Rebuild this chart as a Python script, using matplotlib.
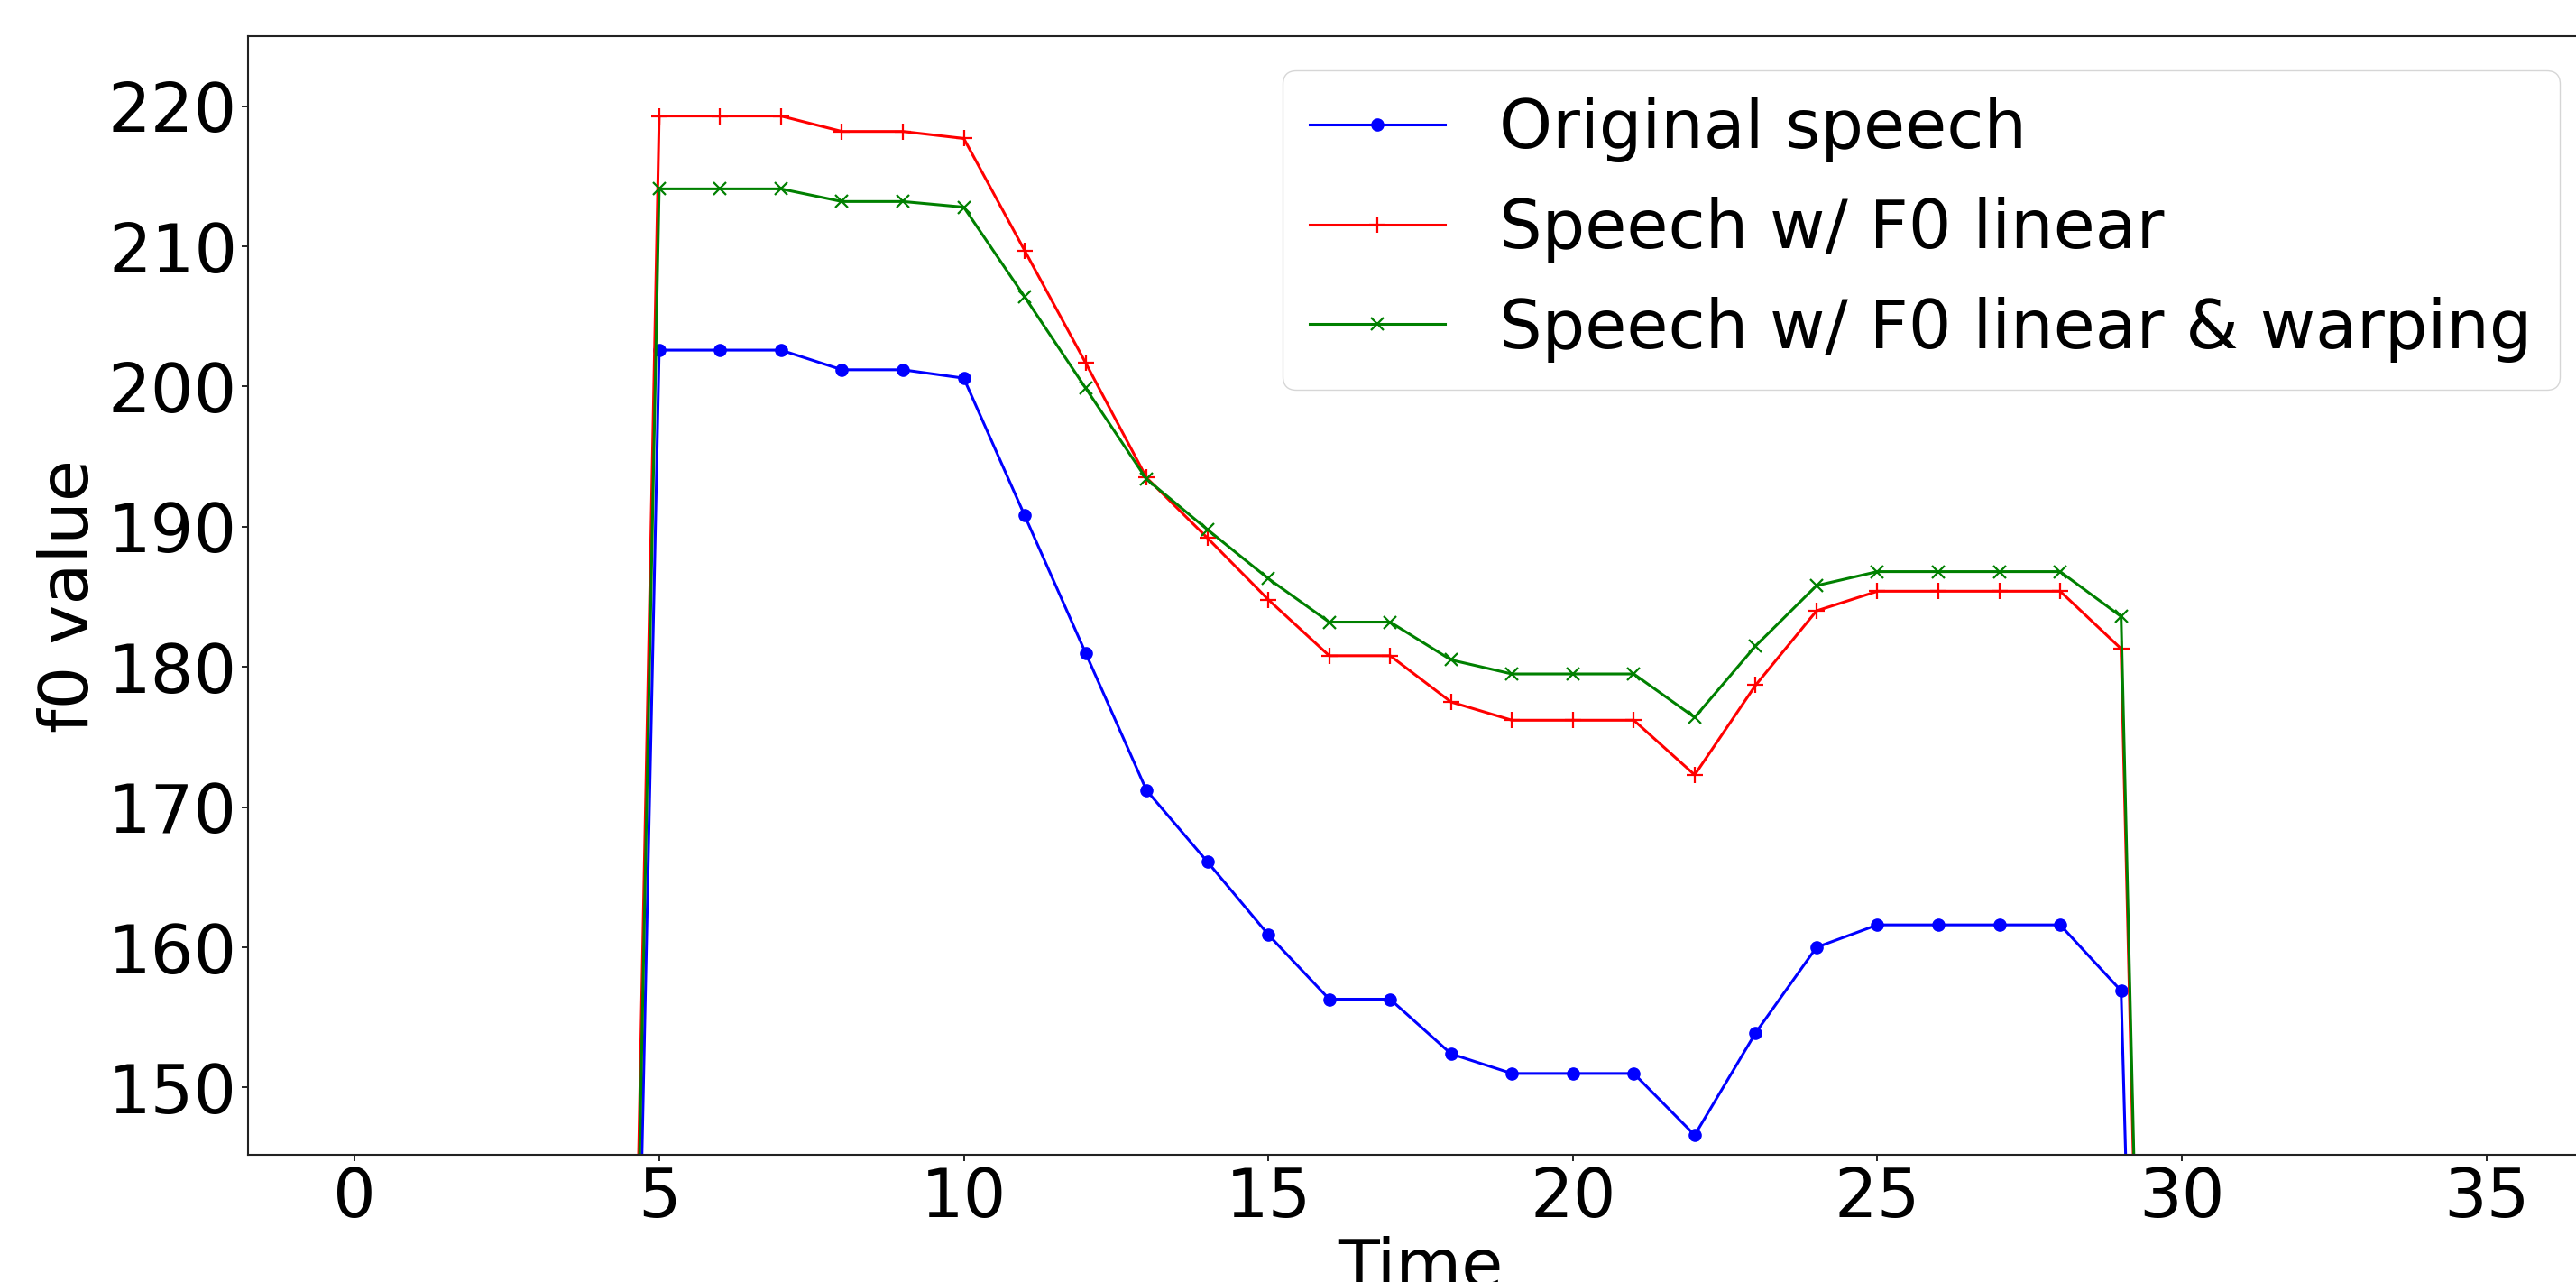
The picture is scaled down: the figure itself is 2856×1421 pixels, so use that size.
import numpy as np
import matplotlib
matplotlib.use("Agg")
import matplotlib.pyplot as plt

# time axis: frames 0..35, voiced region 5..29
time = np.arange(36)

original = [0, 0, 0, 0, 0,
            202.6, 202.6, 202.6, 201.2, 201.2, 200.6, 190.8, 181.0, 171.2,
            166.1, 160.9, 156.3, 156.3, 152.4, 151.0, 151.0, 151.0, 146.6,
            153.9, 160.0, 161.6, 161.6, 161.6, 161.6, 156.9,
            0, 0, 0, 0, 0, 0]

f0_linear = [0, 0, 0, 0, 0,
             219.3, 219.3, 219.3, 218.2, 218.2, 217.7, 209.7, 201.7, 193.5,
             189.2, 184.8, 180.8, 180.8, 177.5, 176.2, 176.2, 176.2, 172.3,
             178.7, 184.0, 185.4, 185.4, 185.4, 185.4, 181.3,
             0, 0, 0, 0, 0, 0]

f0_linear_warp = [0, 0, 0, 0, 0,
                  214.1, 214.1, 214.1, 213.2, 213.2, 212.8, 206.4, 199.9, 193.4,
                  189.8, 186.3, 183.2, 183.2, 180.5, 179.5, 179.5, 179.5, 176.4,
                  181.5, 185.8, 186.8, 186.8, 186.8, 186.8, 183.6,
                  0, 0, 0, 0, 0, 0]

labels = ["Original speech", "Speech w/ F0 linear", "Speech w/ F0 linear & warping"]

fig = plt.figure(figsize=(28.56, 14.21), dpi=100)
# axes run past the right edge of the canvas, like the cropped original
ax = fig.add_axes([275 / 2856, 141 / 1421, 2600 / 2856, 1240 / 1421])

ax.plot(time, original, color="blue", marker="o", markersize=9.5, linewidth=2.2, label=labels[0])
ax.plot(time, f0_linear, color="red", marker="+", markersize=13, markeredgewidth=1.6, linewidth=2.2, label=labels[1])
ax.plot(time, f0_linear_warp, color="green", marker="x", markersize=10, markeredgewidth=1.6, linewidth=2.2, label=labels[2])

ax.set_ylim(145.2, 225)
ax.set_xlim(-1.75, 36.75)
ax.set_xticks([0, 5, 10, 15, 20, 25, 30, 35])
ax.set_yticks([150, 160, 170, 180, 190, 200, 210, 220])

ax.tick_params(labelsize=54, length=5, width=1.2)
for s in ax.spines.values():
    s.set_linewidth(1.5)
    s.set_color("#222222")

ax.set_xlabel("Time", fontsize=54)
ax.set_ylabel("f0 value", fontsize=54)

ax.legend(loc="upper right", fontsize=54, borderaxespad=0.5)

fig.savefig("out.png", dpi=100)
